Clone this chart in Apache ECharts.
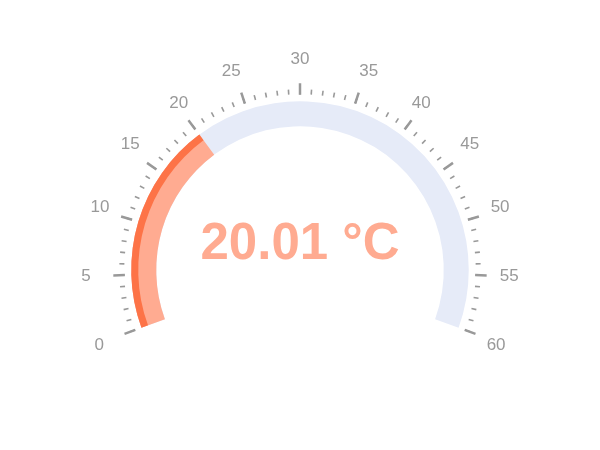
<!DOCTYPE html>
<html>
<head>
<meta charset="utf-8">
<script src="https://cdn.jsdelivr.net/npm/echarts@6/dist/echarts.min.js"></script>
<style>html,body{margin:0;padding:0;background:#fff;}#main{width:600px;height:450px;}</style>
</head>
<body>
<div id="main"></div>
<script>
const gaugeMin = 0;
const gaugeMax = 60;
const temperature = [20.01];
const unitLabel = '°C';

const chart = echarts.init(document.getElementById('main'));
chart.setOption({
  animation: false,
  textStyle: { fontFamily: 'Liberation Sans, Arial, sans-serif' },
  series: [
    {
      type: 'gauge',
      center: ['50%', '60%'],
      startAngle: 200,
      endAngle: -20,
      min: gaugeMin,
      max: gaugeMax,
      splitNumber: 12,
      itemStyle: { color: '#FFAB91' },
      progress: { show: true, width: 25 },
      pointer: { show: false },
      axisLine: { lineStyle: { width: 25, color: [[1, '#E6EBF8']] } },
      axisTick: { distance: -37, splitNumber: 5, length: 5, lineStyle: { width: 1.6, color: '#999' } },
      splitLine: { distance: -43, length: 11.5, lineStyle: { width: 2.5, color: '#999' } },
      axisLabel: { distance: -18.5, color: '#999', fontSize: 17 },
      anchor: { show: false },
      title: { show: false },
      detail: {
        offsetCenter: [0, '-15%'],
        fontSize: 51,
        fontWeight: 'bolder',
        formatter: '{value} ' + unitLabel,
        color: 'inherit'
      },
      data: [{ value: temperature[0] }]
    },
    {
      type: 'gauge',
      center: ['50%', '60%'],
      startAngle: 200,
      endAngle: -20,
      min: gaugeMin,
      max: gaugeMax,
      itemStyle: { color: '#FD7347' },
      progress: { show: true, width: 7 },
      pointer: { show: false },
      axisLine: { show: false },
      axisTick: { show: false },
      splitLine: { show: false },
      axisLabel: { show: false },
      detail: { show: false },
      data: [{ value: temperature[0] }]
    }
  ]
});
</script>
</body>
</html>
